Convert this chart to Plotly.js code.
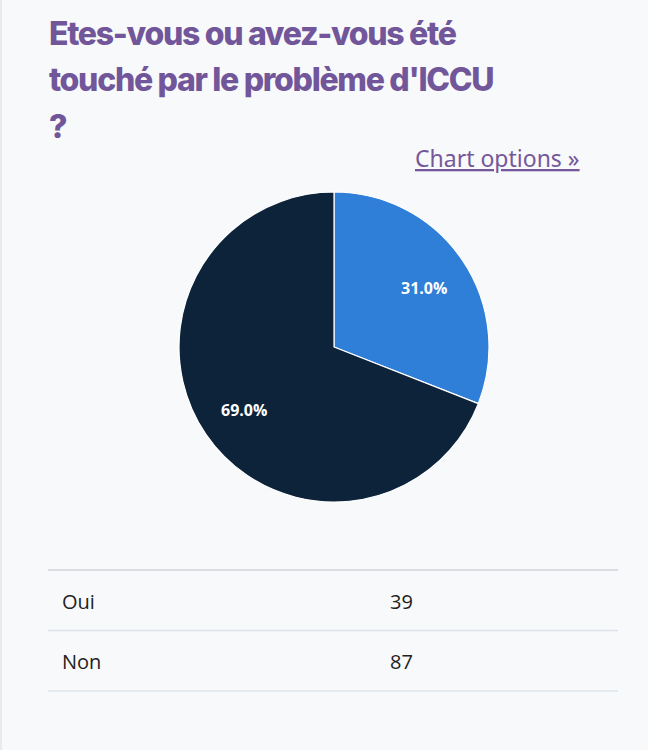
<!DOCTYPE html>
<html>
<head>
<meta charset="utf-8">
<script src="https://cdn.plot.ly/plotly-3.0.1.min.js"></script>
<style>
  html, body { margin: 0; padding: 0; background: #f8f9fb; }
  #chart { width: 648px; height: 750px; }
  /* thin edge of the page panel */
  body::before { content: ''; position: absolute; left: 0; top: 0; width: 2px; height: 750px; background: #e8eaef; z-index: 5; }
</style>
</head>
<body>
<div id="chart"></div>
<script>
// survey answers
const answers = ['Oui', 'Non'];
const counts = [39, 87];
const colors = ['#2f7ed8', '#0d233a'];

// question, one entry per line as it wraps on the page
const titleLines = ["Etes-vous ou avez-vous été", "touché par le problème d'ICCU", "?"];

const W = 648, H = 750;
// pie box in px from the top-left corner
const pieCx = 334, pieCy = 347, pieR = 155;
// table under the pie
const rowTop = 570, rowHeight = 60.5;
const tableLeft = 48, tableRight = 618;

function px(x) { return x / W; }
function py(y) { return 1 - y / H; }

var pie = {
  type: 'pie',
  labels: answers,
  values: counts,
  sort: false,
  direction: 'clockwise',
  rotation: 0,
  marker: { colors: colors, line: { color: '#ffffff', width: 1.2 } },
  textinfo: 'none',
  hoverinfo: 'label+value+percent',
  domain: { x: [px(pieCx - pieR), px(pieCx + pieR)], y: [py(pieCy + pieR), py(pieCy - pieR)] },
  showlegend: false
};

var shapes = [];
var annotations = [];

// percentage labels, placed at the middle angle of each slice (like the original data labels)
let total = counts.reduce((a, b) => a + b, 0);
let acc = 0;
for (let i = 0; i < counts.length; i++) {
  let frac = counts[i] / total;
  let mid = (acc + frac / 2) * 2 * Math.PI;   // clockwise from 12 o'clock
  acc += frac;
  let r = 0.7 * pieR;
  annotations.push({
    xref: 'paper', yref: 'paper',
    x: px(pieCx + r * Math.sin(mid)), y: py(pieCy - r * Math.cos(mid) + 2),
    xanchor: 'center', yanchor: 'middle', showarrow: false,
    text: (frac * 100).toFixed(1) + '%',
    font: { family: 'Open Sans', size: 16, color: '#ffffff', weight: 700 }
  });
}

// title lines
for (let i = 0; i < titleLines.length; i++) {
  annotations.push({
    xref: 'paper', yref: 'paper', x: px(47), y: py(55 + i * 46.5),
    xanchor: 'left', yanchor: 'bottom', align: 'left', showarrow: false,
    text: titleLines[i],
    font: { family: 'Inter', size: 32, color: '#72569a', weight: 800 }
  });
}

// header line of the table is a bit darker
shapes.push({
  type: 'line', xref: 'paper', yref: 'paper',
  x0: px(tableLeft), x1: px(tableRight), y0: py(rowTop), y1: py(rowTop),
  line: { color: '#cfd2d7', width: 1.5 }
});

for (let i = 0; i < answers.length; i++) {
  let yBottom = rowTop + (i + 1) * rowHeight;
  let yMid = rowTop + (i + 0.5) * rowHeight;
  shapes.push({
    type: 'line', xref: 'paper', yref: 'paper',
    x0: px(tableLeft), x1: px(tableRight), y0: py(yBottom), y1: py(yBottom),
    line: { color: '#dde4ec', width: 1.5 }
  });
  annotations.push({
    xref: 'paper', yref: 'paper', x: px(60), y: py(yMid + 1),
    xanchor: 'left', yanchor: 'middle', showarrow: false,
    text: answers[i],
    font: { family: 'Open Sans', size: 20, color: '#222222' }
  });
  annotations.push({
    xref: 'paper', yref: 'paper', x: px(388), y: py(yMid + 1),
    xanchor: 'left', yanchor: 'middle', showarrow: false,
    text: String(counts[i]),
    font: { family: 'Open Sans', size: 20, color: '#222222' }
  });
}

// "Chart options" link
annotations.push({
  xref: 'paper', yref: 'paper', x: px(582), y: py(158),
  xanchor: 'right', yanchor: 'middle', showarrow: false,
  text: '<u>Chart options »</u>',
  font: { family: 'Noto Sans', size: 23, color: '#74589a' }
});

var layout = {
  width: W, height: H,
  margin: { l: 0, r: 0, t: 0, b: 0 },
  paper_bgcolor: '#f8f9fb',
  plot_bgcolor: '#f8f9fb',
  shapes: shapes,
  annotations: annotations
};

Plotly.newPlot('chart', [pie], layout, { displayModeBar: false, staticPlot: true }).then(function (gd) {
  // the site's heading uses a tight letter spacing
  let first = counts.length;
  for (let i = 0; i < titleLines.length; i++) {
    let t = gd.querySelector('.annotation[data-index="' + (first + i) + '"] text');
    if (t) t.style.letterSpacing = '-1.3px';
  }
});
</script>
</body>
</html>
